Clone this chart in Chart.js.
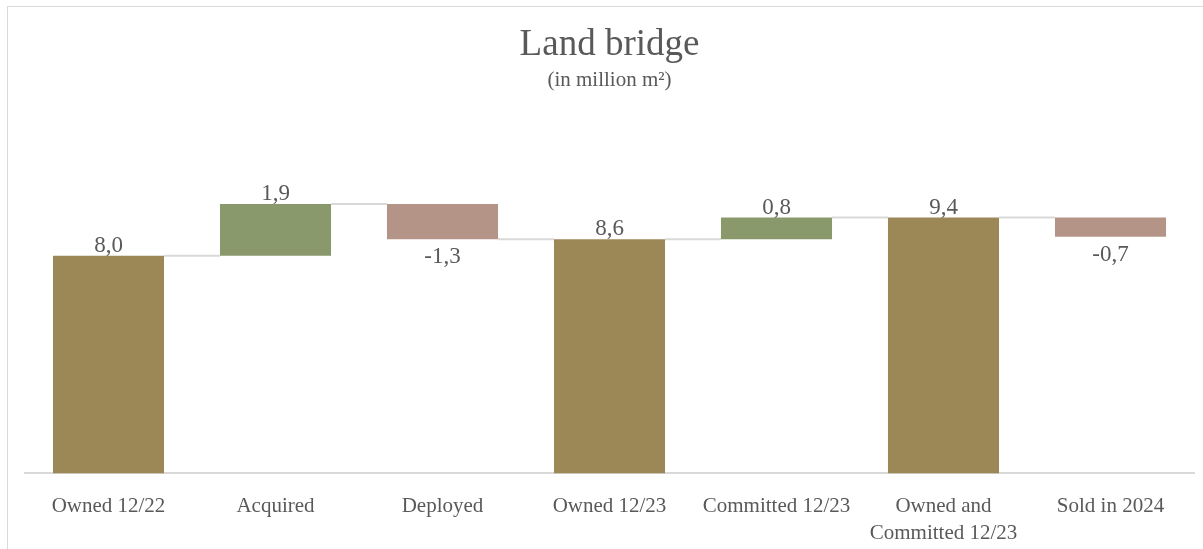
<!DOCTYPE html>
<html>
<head>
<meta charset="utf-8">
<title>Land bridge</title>
<script src="https://cdn.jsdelivr.net/npm/chart.js@4.4.1/dist/chart.umd.min.js"></script>
<style>
    html, body { margin: 0; padding: 0; background: #fff; }
    #marco { position: relative; width: 1203px; height: 549px; overflow: hidden; }
    #grafico { display: block; }
    #borde {
        position: absolute; left: 7px; top: 6px; right: -5px; bottom: -5px;
        border-left: 1px solid #d9d9d9; border-top: 1px solid #d9d9d9;
        pointer-events: none;
    }
</style>
</head>
<body>
<div id="marco">
    <canvas id="grafico" width="1203" height="566"></canvas>
    <div id="borde"></div>
</div>
<script>
// Datos del puente de terreno (millones de m2)
const categorias = ['Owned 12/22', 'Acquired', 'Deployed', 'Owned 12/23', 'Committed 12/23', ['Owned and', 'Committed 12/23'], 'Sold in 2024'];
const valores = [8.0, 1.9, -1.3, 8.6, 0.8, 9.4, -0.7];
const tipos = ['total', 'cambio', 'cambio', 'total', 'cambio', 'total', 'cambio'];

const colorTotal = '#9C8857';
const colorSube = '#8A996C';
const colorBaja = '#B59488';
const colorTexto = '#595959';
const fuente = '"Liberation Serif", "Times New Roman", serif';

// rangos flotantes a partir de los valores
let nivel = 0;
const rangos = [];
const niveles = [];
valores.forEach((v, i) => {
    if (tipos[i] === 'total') {
        rangos.push([0, v]);
        nivel = v;
    } else {
        rangos.push([nivel, nivel + v]);
        nivel = nivel + v;
    }
    niveles.push(nivel);
});

const colores = valores.map((v, i) => tipos[i] === 'total' ? colorTotal : (v >= 0 ? colorSube : colorBaja));

const formato = v => v.toFixed(1).replace('.', ',');

// lineas conectoras entre barras
const conectores = {
    id: 'conectores',
    beforeDatasetsDraw(chart) {
        const { ctx } = chart;
        const barras = chart.getDatasetMeta(0).data;
        const y = chart.scales.y;
        ctx.save();
        ctx.strokeStyle = '#D9D9D9';
        ctx.lineWidth = 2;
        for (let i = 0; i < barras.length - 1; i++) {
            const py = y.getPixelForValue(niveles[i]);
            ctx.beginPath();
            ctx.moveTo(barras[i].x + barras[i].width / 2, py);
            ctx.lineTo(barras[i + 1].x - barras[i + 1].width / 2, py);
            ctx.stroke();
        }
        ctx.restore();
    }
};

// etiquetas de valor
const etiquetas = {
    id: 'etiquetas',
    afterDatasetsDraw(chart) {
        const { ctx } = chart;
        const barras = chart.getDatasetMeta(0).data;
        ctx.save();
        ctx.fillStyle = colorTexto;
        ctx.font = '23px ' + fuente;
        ctx.textAlign = 'center';
        ctx.textBaseline = 'alphabetic';
        barras.forEach((b, i) => {
            const arriba = Math.min(b.y, b.base);
            const abajo = Math.max(b.y, b.base);
            if (valores[i] >= 0) {
                ctx.fillText(formato(valores[i]), b.x, arriba - 4);
            } else {
                ctx.fillText(formato(valores[i]), b.x, abajo + 24);
            }
        });
        ctx.restore();
    }
};

const grafico = new Chart(document.getElementById('grafico'), {
    type: 'bar',
    data: {
        labels: categorias,
        datasets: [{
            data: rangos,
            backgroundColor: colores,
            borderWidth: 0,
            categoryPercentage: 1,
            barPercentage: 0.665
        }]
    },
    options: {
        responsive: false,
        animation: false,
        devicePixelRatio: 1,
        layout: { padding: { top: 0, left: 25, right: 9, bottom: 8 } },
        plugins: {
            legend: { display: false },
            tooltip: { enabled: false },
            title: {
                display: true,
                text: 'Land bridge',
                color: colorTexto,
                font: { family: fuente, size: 37, weight: 'normal' },
                padding: { top: 23, bottom: 0 }
            },
            subtitle: {
                display: true,
                text: '(in million m²)',
                color: colorTexto,
                font: { family: fuente, size: 21, weight: 'normal' },
                padding: { top: 0, bottom: 27 }
            }
        },
        scales: {
            x: {
                grid: { display: false },
                border: { display: true, color: '#D9D9D9', width: 2 },
                ticks: {
                    color: colorTexto,
                    font: { family: fuente, size: 21, lineHeight: 1.3 },
                    padding: 11,
                    maxRotation: 0,
                    autoSkip: false
                }
            },
            y: {
                display: false,
                min: 0,
                max: 13
            }
        }
    },
    plugins: [conectores, etiquetas]
});
</script>
</body>
</html>
